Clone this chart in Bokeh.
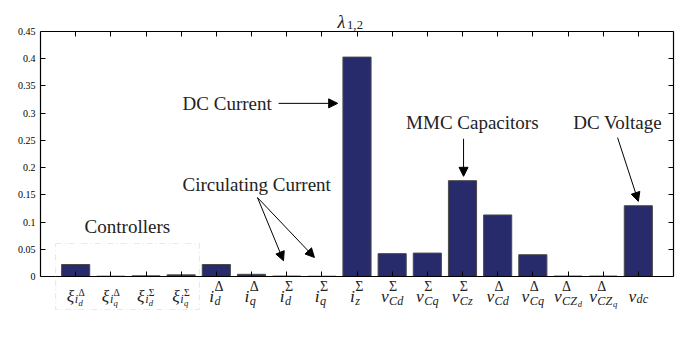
from bokeh.plotting import figure
from bokeh.models import (Label, Arrow, NormalHead, BoxAnnotation, LinearAxis,
                          FixedTicker, CustomJSTickFormatter, Range1d)
from bokeh.embed import file_html
from bokeh.resources import INLINE

# ---------------- data ----------------
tick_labels = ["ξ_{i_d^Δ}", "ξ_{i_q^Δ}", "ξ_{i_d^Σ}", "ξ_{i_q^Σ}",
               "i_d^Δ", "i_q^Δ", "i_d^Σ", "i_q^Σ", "i_z^Σ",
               "v_{Cd}^Σ", "v_{Cq}^Σ", "v_{Cz}^Σ", "v_{Cd}^Δ", "v_{Cq}^Δ",
               "v_{CZ_d}^Δ", "v_{CZ_q}^Δ", "v_{dc}"]
values = [0.022, 0.0006, 0.0012, 0.003, 0.022, 0.004, 0.0008, 0.0005, 0.403,
          0.042, 0.043, 0.176, 0.113, 0.040, 0.0008, 0.0008, 0.130]
y_ticks = [0, 0.05, 0.1, 0.15, 0.2, 0.25, 0.3, 0.35, 0.4, 0.45]
title_tex = "λ_{1,2}"

# ---------------- geometry ----------------
W, H = 684, 336
ML, MR, MT, MB = 40, 11, 4, 4
AX_TOP, AX_BOT = 31, 276            # pixel rows of y=0.45 and y=0
X0, X1 = 0, len(values) + 1
Y0, Y1 = 0, 0.45
FW = W - ML - MR
FH = H - MT - MB
ppx = FW / (X1 - X0)
ppy = (AX_BOT - AX_TOP) / (Y1 - Y0)
YHI = Y1 + (AX_TOP - MT) / ppy
YLO = Y0 - (H - MB - AX_BOT) / ppy

SERIF = "Liberation Serif"
BAR = "#272a6b"
INK = "#222222"

p = figure(frame_width=FW, frame_height=FH, output_backend="svg",
           toolbar_location=None,
           x_range=Range1d(X0, X1), y_range=Range1d(YLO, YHI),
           x_axis_location=None, y_axis_location=None,
           min_border_left=ML, min_border_right=MR, min_border_top=MT,
           min_border_bottom=MB)
p.outline_line_color = None
p.xgrid.visible = False
p.ygrid.visible = False
p.background_fill_color = "white"
p.border_fill_color = "white"

xs = list(range(1, len(values) + 1))
p.vbar(x=xs, top=values, width=0.8, fill_color=BAR, line_color="#4a4a4a",
       line_width=1)

empty = CustomJSTickFormatter(code="return ''")
yfmt = CustomJSTickFormatter(code="return Number(tick.toFixed(2)).toString()")


def style_axis(ax, labels=True):
    ax.axis_line_color = "black"
    ax.axis_line_width = 1.2
    ax.major_tick_line_color = "black"
    ax.major_tick_in = 5
    ax.major_tick_out = 0
    ax.minor_tick_line_color = None
    ax.major_label_text_font = SERIF
    ax.major_label_text_font_size = "10px" if labels else "1px"
    ax.major_label_text_color = "black"


left = LinearAxis(ticker=FixedTicker(ticks=y_ticks), formatter=yfmt,
                  major_label_standoff=5, bounds=(Y0, Y1))
right = LinearAxis(ticker=FixedTicker(ticks=y_ticks), formatter=empty,
                   major_label_standoff=0, bounds=(Y0, Y1))
below = LinearAxis(ticker=FixedTicker(ticks=xs), formatter=empty,
                   major_label_standoff=0, fixed_location=Y0)
above = LinearAxis(ticker=FixedTicker(ticks=xs), formatter=empty,
                   major_label_standoff=0, fixed_location=Y1)
style_axis(left)
for ax in (right, below, above):
    style_axis(ax, labels=False)
p.add_layout(left, "left")
p.add_layout(right, "right")
p.add_layout(below, "below")
p.add_layout(above, "above")

# ---------------- math-like text built from real text ----------------
EM = {"i": 0.30, "d": 0.5, "q": 0.5, "z": 0.42, "v": 0.46, "C": 0.68,
      "Z": 0.6, "c": 0.44, "ξ": 0.46, "Δ": 0.64, "Σ": 0.62, "λ": 0.52,
      "1": 0.5, ",": 0.28, "2": 0.5}
SUB_SCALE = 0.7
SUP_SCALE = 0.8


def parse(s):
    atoms, i = [], 0

    def grab(i):
        if s[i] == "{":
            depth, j = 1, i + 1
            while depth:
                if s[j] == "{":
                    depth += 1
                elif s[j] == "}":
                    depth -= 1
                j += 1
            return parse(s[i + 1:j - 1]), j
        return [[s[i], None, None]], i + 1

    while i < len(s):
        atom = [s[i], None, None]
        i += 1
        while i < len(s) and s[i] in "_^":
            k = 1 if s[i] == "_" else 2
            atom[k], i = grab(i + 1)
        atoms.append(atom)
    return atoms


def width(atoms, size):
    w = 0
    for base, sub, sup in atoms:
        w += EM.get(base, 0.5) * size
        extra = 0
        if sub:
            extra = max(extra, width(sub, size * SUB_SCALE))
        if sup:
            extra = max(extra, width(sup, size * SUP_SCALE))
        w += extra
    return w


def render(atoms, x, base_y, size, out):
    for base, sub, sup in atoms:
        out.append((base, x, base_y, size))
        w = EM.get(base, 0.5) * size
        extra = 0
        if sub:
            drop = size * (0.34 if sup else 0.18)
            extra = max(extra, render(sub, x + w, base_y + drop,
                                      size * SUB_SCALE, out) - (x + w))
        if sup:
            extra = max(extra, render(sup, x + w, base_y - size * 0.5,
                                      size * SUP_SCALE, out) - (x + w))
        x += w + extra
    return x


def italic(ch):
    return ch.isalpha() and ch not in "ΔΣ"


def add_math(xc_data, base_y_px, tex, size):
    """xc_data: centre in data x; base_y_px: baseline, pixels below y=0."""
    atoms = parse(tex)
    w = width(atoms, size)
    parts = []
    render(atoms, -w / 2, base_y_px, size, parts)
    for ch, dx, dy, sz in parts:
        p.add_layout(Label(x=xc_data + dx / ppx, y=Y0 - dy / ppy, text=ch,
                           text_font=SERIF, text_font_size=f"{sz:.1f}px",
                           text_font_style="italic" if italic(ch) else "normal",
                           text_align="left", text_baseline="alphabetic",
                           text_color=INK))


for xc, lab in zip(xs, tick_labels):
    add_math(xc, 19, lab, 17.5)

# title
add_math(8.81, -(AX_BOT - 21), title_tex, 18)


# ---------------- annotations ----------------
def txt(x, y, s, align="left"):
    p.add_layout(Label(x=x, y=y, text=s, text_font=SERIF,
                       text_font_size="19px", text_align=align,
                       text_baseline="middle", text_color=INK))


def arrow(x0, y0, x1, y1):
    p.add_layout(Arrow(end=NormalHead(size=9, fill_color="black",
                                      line_color="black"),
                       x_start=x0, y_start=y0, x_end=x1, y_end=y1,
                       line_color="black", line_width=1))


txt(4.04, 0.318, "DC Current")
arrow(6.77, 0.318, 8.45, 0.318)

txt(4.04, 0.169, "Circulating Current")
arrow(6.17, 0.145, 6.91, 0.029)
arrow(6.17, 0.145, 7.79, 0.035)

txt(12.28, 0.283, "MMC Capacitors", align="center")
arrow(12.03, 0.253, 12.03, 0.184)

txt(16.41, 0.283, "DC Voltage", align="center")
arrow(16.41, 0.255, 17.0, 0.138)

txt(2.47, 0.092, "Controllers", align="center")
p.add_layout(BoxAnnotation(left=0.43, right=4.52, bottom=-0.0606, top=0.0606,
                           fill_alpha=0, line_color="#b5b5b5", line_width=1.2,
                           line_dash="6 3 1 3"))

open("out.html", "w").write(file_html(p, INLINE))
